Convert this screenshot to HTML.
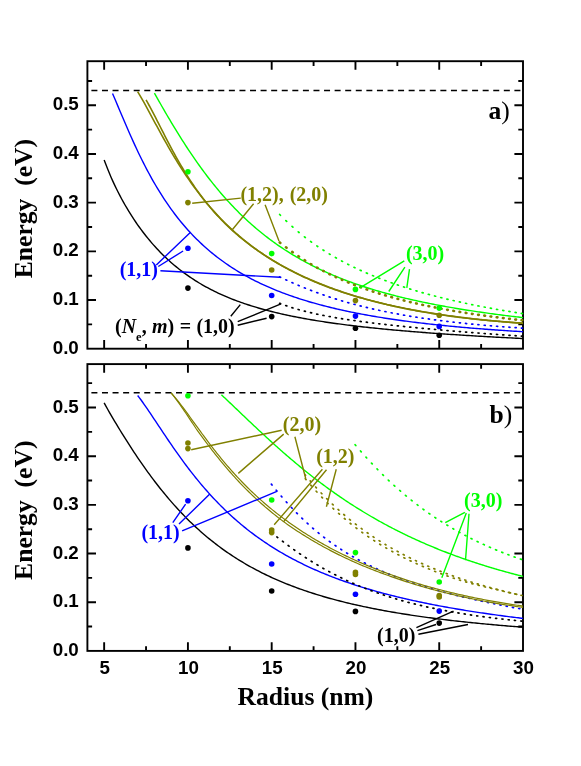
<!DOCTYPE html>
<html><head><meta charset="utf-8"><title>Energy vs Radius</title>
<style>
html,body{margin:0;padding:0;background:#fff;}
body{width:581px;height:766px;overflow:hidden;}
svg{display:block;will-change:transform;}
.tk{font-family:"Liberation Sans",sans-serif;font-weight:bold;font-size:18.8px;fill:#000;}
.lb{font-family:"Liberation Serif",serif;font-weight:bold;font-size:20px;}
.ax{font-family:"Liberation Serif",serif;font-weight:bold;font-size:25.6px;fill:#000;}
</style></head><body>
<svg width="581" height="766" viewBox="0 0 581 766">
<rect width="581" height="766" fill="#fff"/>
<rect x="87.40" y="61.20" width="435.60" height="287.50" fill="none" stroke="#000" stroke-width="1.9"/>
<path d="M104.15 348.70 v-8.6 M104.15 61.20 v8.6 M187.92 348.70 v-8.6 M187.92 61.20 v8.6 M271.69 348.70 v-8.6 M271.69 61.20 v8.6 M355.46 348.70 v-8.6 M355.46 61.20 v8.6 M439.23 348.70 v-8.6 M439.23 61.20 v8.6 M146.04 348.70 v-4.7 M146.04 61.20 v4.7 M229.81 348.70 v-4.7 M229.81 61.20 v4.7 M313.58 348.70 v-4.7 M313.58 61.20 v4.7 M397.35 348.70 v-4.7 M397.35 61.20 v4.7 M481.12 348.70 v-4.7 M481.12 61.20 v4.7 M87.40 324.36 h4.7 M523.00 324.36 h-4.7 M87.40 300.02 h8.6 M523.00 300.02 h-8.6 M87.40 275.68 h4.7 M523.00 275.68 h-4.7 M87.40 251.34 h8.6 M523.00 251.34 h-8.6 M87.40 227.00 h4.7 M523.00 227.00 h-4.7 M87.40 202.66 h8.6 M523.00 202.66 h-8.6 M87.40 178.32 h4.7 M523.00 178.32 h-4.7 M87.40 153.98 h8.6 M523.00 153.98 h-8.6 M87.40 129.64 h4.7 M523.00 129.64 h-4.7 M87.40 105.30 h8.6 M523.00 105.30 h-8.6 M87.40 80.96 h4.7 M523.00 80.96 h-4.7" stroke="#000" stroke-width="1.9" fill="none"/>
<path d="M91.40 90.55 H522.00" stroke="#000" stroke-width="1.45" stroke-dasharray="6.0 4.575" fill="none"/>
<text x="78.8" y="353.70" text-anchor="end" class="tk">0.0</text>
<text x="78.8" y="305.02" text-anchor="end" class="tk">0.1</text>
<text x="78.8" y="256.34" text-anchor="end" class="tk">0.2</text>
<text x="78.8" y="207.66" text-anchor="end" class="tk">0.3</text>
<text x="78.8" y="158.98" text-anchor="end" class="tk">0.4</text>
<text x="78.8" y="110.30" text-anchor="end" class="tk">0.5</text>
<rect x="87.40" y="364.10" width="435.60" height="286.80" fill="none" stroke="#000" stroke-width="1.9"/>
<path d="M104.15 650.90 v-8.6 M104.15 364.10 v8.6 M187.92 650.90 v-8.6 M187.92 364.10 v8.6 M271.69 650.90 v-8.6 M271.69 364.10 v8.6 M355.46 650.90 v-8.6 M355.46 364.10 v8.6 M439.23 650.90 v-8.6 M439.23 364.10 v8.6 M146.04 650.90 v-4.7 M146.04 364.10 v4.7 M229.81 650.90 v-4.7 M229.81 364.10 v4.7 M313.58 650.90 v-4.7 M313.58 364.10 v4.7 M397.35 650.90 v-4.7 M397.35 364.10 v4.7 M481.12 650.90 v-4.7 M481.12 364.10 v4.7 M87.40 626.56 h4.7 M523.00 626.56 h-4.7 M87.40 602.22 h8.6 M523.00 602.22 h-8.6 M87.40 577.88 h4.7 M523.00 577.88 h-4.7 M87.40 553.54 h8.6 M523.00 553.54 h-8.6 M87.40 529.20 h4.7 M523.00 529.20 h-4.7 M87.40 504.86 h8.6 M523.00 504.86 h-8.6 M87.40 480.52 h4.7 M523.00 480.52 h-4.7 M87.40 456.18 h8.6 M523.00 456.18 h-8.6 M87.40 431.84 h4.7 M523.00 431.84 h-4.7 M87.40 407.50 h8.6 M523.00 407.50 h-8.6 M87.40 383.16 h4.7 M523.00 383.16 h-4.7" stroke="#000" stroke-width="1.9" fill="none"/>
<path d="M91.40 392.75 H522.00" stroke="#000" stroke-width="1.45" stroke-dasharray="6.0 4.575" fill="none"/>
<text x="78.8" y="655.90" text-anchor="end" class="tk">0.0</text>
<text x="78.8" y="607.22" text-anchor="end" class="tk">0.1</text>
<text x="78.8" y="558.54" text-anchor="end" class="tk">0.2</text>
<text x="78.8" y="509.86" text-anchor="end" class="tk">0.3</text>
<text x="78.8" y="461.18" text-anchor="end" class="tk">0.4</text>
<text x="78.8" y="412.50" text-anchor="end" class="tk">0.5</text>
<text x="104.65" y="674.0" text-anchor="middle" class="tk">5</text>
<text x="188.42" y="674.0" text-anchor="middle" class="tk">10</text>
<text x="272.19" y="674.0" text-anchor="middle" class="tk">15</text>
<text x="355.96" y="674.0" text-anchor="middle" class="tk">20</text>
<text x="439.73" y="674.0" text-anchor="middle" class="tk">25</text>
<text x="523.50" y="674.0" text-anchor="middle" class="tk">30</text>
<path d="M104.15 159.91 L105.91 164.60 L107.66 169.06 L109.41 173.33 L111.16 177.42 L112.92 181.35 L114.67 185.13 L116.42 188.77 L118.17 192.28 L119.93 195.68 L121.68 198.96 L123.43 202.15 L125.18 205.24 L126.94 208.23 L128.69 211.14 L130.44 213.97 L132.19 216.72 L133.95 219.40 L135.70 222.00 L137.45 224.53 L139.20 227.00 L140.96 229.40 L142.71 231.74 L144.46 234.02 L146.21 236.24 L147.97 238.41 L149.72 240.52 L151.47 242.58 L153.22 244.59 L154.98 246.55 L156.73 248.46 L158.48 250.32 L160.23 252.14 L161.99 253.91 L163.74 255.64 L165.49 257.33 L167.24 258.98 L169.00 260.59 L170.75 262.15 L172.50 263.68 L174.25 265.18 L176.01 266.64 L177.76 268.06 L179.51 269.45 L181.26 270.80 L183.02 272.13 L184.77 273.42 L186.52 274.68 L188.27 275.91 L190.03 277.12 L191.78 278.29 L193.53 279.44 L195.28 280.56 L197.04 281.66 L198.79 282.73 L200.54 283.77 L202.29 284.79 L204.05 285.79 L205.80 286.77 L207.55 287.72 L209.30 288.65 L211.06 289.56 L212.81 290.45 L214.56 291.32 L216.31 292.17 L218.07 293.01 L219.82 293.82 L221.57 294.62 L223.32 295.40 L225.08 296.16 L226.83 296.90 L228.58 297.63 L230.33 298.35 L232.09 299.05 L233.84 299.73 L235.59 300.40 L237.34 301.06 L239.10 301.70 L240.85 302.33 L242.60 302.95 L244.35 303.55 L246.11 304.14 L247.86 304.72 L249.61 305.29 L251.36 305.84 L253.12 306.39 L254.87 306.92 L256.62 307.45 L258.37 307.96 L260.13 308.46 L261.88 308.96 L263.63 309.44 L265.38 309.92 L267.14 310.39 L268.89 310.84 L270.64 311.29 L272.39 311.73 L274.15 312.17 L275.90 312.59 L277.65 313.01 L279.40 313.42 L281.16 313.82 L282.91 314.21 L284.66 314.60 L286.41 314.98 L288.17 315.36 L289.92 315.73 L291.67 316.09 L293.42 316.44 L295.18 316.79 L296.93 317.14 L298.68 317.48 L300.43 317.81 L302.19 318.13 L303.94 318.46 L305.69 318.77 L307.44 319.08 L309.20 319.39 L310.95 319.69 L312.70 319.99 L314.45 320.28 L316.21 320.57 L317.96 320.85 L319.71 321.13 L321.46 321.40 L323.22 321.67 L324.97 321.94 L326.72 322.20 L328.47 322.46 L330.23 322.71 L331.98 322.96 L333.73 323.21 L335.48 323.46 L337.24 323.70 L338.99 323.93 L340.74 324.17 L342.49 324.40 L344.25 324.62 L346.00 324.85 L347.75 325.07 L349.50 325.29 L351.26 325.50 L353.01 325.72 L354.76 325.92 L356.51 326.13 L358.27 326.34 L360.02 326.54 L361.77 326.74 L363.52 326.93 L365.28 327.13 L367.03 327.32 L368.78 327.51 L370.53 327.70 L372.29 327.88 L374.04 328.06 L375.79 328.24 L377.54 328.42 L379.30 328.60 L381.05 328.77 L382.80 328.95 L384.55 329.12 L386.31 329.28 L388.06 329.45 L389.81 329.62 L391.56 329.78 L393.32 329.94 L395.07 330.10 L396.82 330.26 L398.57 330.41 L400.33 330.57 L402.08 330.72 L403.83 330.87 L405.58 331.02 L407.34 331.17 L409.09 331.31 L410.84 331.46 L412.59 331.60 L414.35 331.75 L416.10 331.89 L417.85 332.03 L419.60 332.16 L421.36 332.30 L423.11 332.44 L424.86 332.57 L426.61 332.70 L428.37 332.84 L430.12 332.97 L431.87 333.09 L433.62 333.22 L435.38 333.35 L437.13 333.48 L438.88 333.60 L440.63 333.72 L442.39 333.85 L444.14 333.97 L445.89 334.09 L447.64 334.21 L449.40 334.33 L451.15 334.44 L452.90 334.56 L454.65 334.67 L456.41 334.79 L458.16 334.90 L459.91 335.02 L461.66 335.13 L463.42 335.24 L465.17 335.35 L466.92 335.46 L468.67 335.56 L470.43 335.67 L472.18 335.78 L473.93 335.88 L475.68 335.99 L477.44 336.09 L479.19 336.19 L480.94 336.30 L482.69 336.40 L484.45 336.50 L486.20 336.60 L487.95 336.70 L489.70 336.80 L491.46 336.90 L493.21 336.99 L494.96 337.09 L496.71 337.18 L498.47 337.28 L500.22 337.37 L501.97 337.47 L503.72 337.56 L505.48 337.65 L507.23 337.74 L508.98 337.83 L510.73 337.92 L512.49 338.01 L514.24 338.10 L515.99 338.19 L517.74 338.28 L519.50 338.37 L521.25 338.45 L523.00 338.54" fill="none" stroke="#000000" stroke-width="1.4"/>
<path d="M112.53 93.53 L114.25 97.52 L115.97 101.55 L117.68 105.61 L119.40 109.68 L121.12 113.74 L122.84 117.80 L124.55 121.83 L126.27 125.83 L127.99 129.79 L129.71 133.71 L131.42 137.57 L133.14 141.38 L134.86 145.13 L136.57 148.82 L138.29 152.44 L140.01 156.00 L141.73 159.50 L143.44 162.92 L145.16 166.28 L146.88 169.57 L148.60 172.79 L150.31 175.95 L152.03 179.04 L153.75 182.06 L155.47 185.01 L157.18 187.90 L158.90 190.73 L160.62 193.49 L162.34 196.20 L164.05 198.84 L165.77 201.42 L167.49 203.95 L169.21 206.42 L170.92 208.83 L172.64 211.19 L174.36 213.49 L176.08 215.74 L177.79 217.95 L179.51 220.10 L181.23 222.20 L182.95 224.26 L184.66 226.27 L186.38 228.24 L188.10 230.16 L189.82 232.04 L191.53 233.89 L193.25 235.68 L194.97 237.45 L196.69 239.17 L198.40 240.85 L200.12 242.50 L201.84 244.12 L203.56 245.70 L205.27 247.24 L206.99 248.76 L208.71 250.24 L210.43 251.69 L212.14 253.11 L213.86 254.50 L215.58 255.86 L217.29 257.20 L219.01 258.51 L220.73 259.79 L222.45 261.04 L224.16 262.27 L225.88 263.48 L227.60 264.66 L229.32 265.82 L231.03 266.96 L232.75 268.07 L234.47 269.16 L236.19 270.23 L237.90 271.29 L239.62 272.32 L241.34 273.33 L243.06 274.32 L244.77 275.29 L246.49 276.25 L248.21 277.19 L249.93 278.11 L251.64 279.01 L253.36 279.90 L255.08 280.77 L256.80 281.62 L258.51 282.46 L260.23 283.29 L261.95 284.10 L263.67 284.89 L265.38 285.68 L267.10 286.44 L268.82 287.20 L270.54 287.94 L272.25 288.67 L273.97 289.39 L275.69 290.09 L277.41 290.78 L279.12 291.46 L280.84 292.13 L282.56 292.79 L284.28 293.44 L285.99 294.07 L287.71 294.70 L289.43 295.31 L291.14 295.92 L292.86 296.51 L294.58 297.10 L296.30 297.67 L298.01 298.24 L299.73 298.80 L301.45 299.35 L303.17 299.89 L304.88 300.42 L306.60 300.94 L308.32 301.46 L310.04 301.96 L311.75 302.46 L313.47 302.95 L315.19 303.44 L316.91 303.91 L318.62 304.38 L320.34 304.85 L322.06 305.30 L323.78 305.75 L325.49 306.19 L327.21 306.62 L328.93 307.05 L330.65 307.47 L332.36 307.89 L334.08 308.30 L335.80 308.70 L337.52 309.10 L339.23 309.49 L340.95 309.88 L342.67 310.26 L344.39 310.63 L346.10 311.00 L347.82 311.37 L349.54 311.73 L351.26 312.08 L352.97 312.43 L354.69 312.78 L356.41 313.11 L358.13 313.45 L359.84 313.78 L361.56 314.10 L363.28 314.43 L365.00 314.74 L366.71 315.05 L368.43 315.36 L370.15 315.67 L371.86 315.96 L373.58 316.26 L375.30 316.55 L377.02 316.84 L378.73 317.12 L380.45 317.40 L382.17 317.68 L383.89 317.95 L385.60 318.22 L387.32 318.48 L389.04 318.75 L390.76 319.00 L392.47 319.26 L394.19 319.51 L395.91 319.76 L397.63 320.00 L399.34 320.25 L401.06 320.48 L402.78 320.72 L404.50 320.95 L406.21 321.18 L407.93 321.41 L409.65 321.63 L411.37 321.85 L413.08 322.07 L414.80 322.29 L416.52 322.50 L418.24 322.71 L419.95 322.92 L421.67 323.12 L423.39 323.32 L425.11 323.52 L426.82 323.72 L428.54 323.92 L430.26 324.11 L431.98 324.30 L433.69 324.49 L435.41 324.67 L437.13 324.86 L438.85 325.04 L440.56 325.21 L442.28 325.39 L444.00 325.57 L445.71 325.74 L447.43 325.91 L449.15 326.08 L450.87 326.24 L452.58 326.41 L454.30 326.57 L456.02 326.73 L457.74 326.89 L459.45 327.04 L461.17 327.20 L462.89 327.35 L464.61 327.50 L466.32 327.65 L468.04 327.80 L469.76 327.95 L471.48 328.09 L473.19 328.23 L474.91 328.37 L476.63 328.51 L478.35 328.65 L480.06 328.79 L481.78 328.92 L483.50 329.05 L485.22 329.19 L486.93 329.32 L488.65 329.44 L490.37 329.57 L492.09 329.70 L493.80 329.82 L495.52 329.94 L497.24 330.06 L498.96 330.18 L500.67 330.30 L502.39 330.42 L504.11 330.54 L505.83 330.65 L507.54 330.76 L509.26 330.88 L510.98 330.99 L512.70 331.10 L514.41 331.21 L516.13 331.31 L517.85 331.42 L519.57 331.52 L521.28 331.63 L523.00 331.73" fill="none" stroke="#0000ff" stroke-width="1.4"/>
<path d="M137.66 91.65 L139.27 94.30 L140.89 97.04 L142.50 99.85 L144.11 102.72 L145.72 105.63 L147.34 108.57 L148.95 111.54 L150.56 114.52 L152.17 117.52 L153.78 120.51 L155.40 123.51 L157.01 126.49 L158.62 129.46 L160.23 132.41 L161.85 135.34 L163.46 138.25 L165.07 141.13 L166.68 143.98 L168.30 146.80 L169.91 149.59 L171.52 152.34 L173.13 155.06 L174.74 157.74 L176.36 160.38 L177.97 162.99 L179.58 165.55 L181.19 168.08 L182.81 170.57 L184.42 173.03 L186.03 175.44 L187.64 177.81 L189.25 180.15 L190.87 182.45 L192.48 184.71 L194.09 186.93 L195.70 189.12 L197.32 191.27 L198.93 193.38 L200.54 195.46 L202.15 197.50 L203.77 199.51 L205.38 201.48 L206.99 203.42 L208.60 205.33 L210.21 207.20 L211.83 209.05 L213.44 210.86 L215.05 212.64 L216.66 214.39 L218.28 216.11 L219.89 217.80 L221.50 219.47 L223.11 221.10 L224.73 222.71 L226.34 224.29 L227.95 225.85 L229.56 227.38 L231.17 228.88 L232.79 230.36 L234.40 231.82 L236.01 233.25 L237.62 234.66 L239.24 236.04 L240.85 237.40 L242.46 238.74 L244.07 240.06 L245.69 241.36 L247.30 242.64 L248.91 243.89 L250.52 245.13 L252.13 246.35 L253.75 247.55 L255.36 248.73 L256.97 249.89 L258.58 251.03 L260.20 252.16 L261.81 253.26 L263.42 254.35 L265.03 255.43 L266.65 256.49 L268.26 257.53 L269.87 258.55 L271.48 259.56 L273.09 260.56 L274.71 261.54 L276.32 262.51 L277.93 263.46 L279.54 264.39 L281.16 265.32 L282.77 266.23 L284.38 267.12 L285.99 268.01 L287.60 268.88 L289.22 269.73 L290.83 270.58 L292.44 271.41 L294.05 272.23 L295.67 273.04 L297.28 273.84 L298.89 274.63 L300.50 275.40 L302.12 276.16 L303.73 276.92 L305.34 277.66 L306.95 278.39 L308.56 279.11 L310.18 279.82 L311.79 280.53 L313.40 281.22 L315.01 281.90 L316.63 282.57 L318.24 283.23 L319.85 283.89 L321.46 284.53 L323.08 285.17 L324.69 285.80 L326.30 286.42 L327.91 287.03 L329.52 287.63 L331.14 288.22 L332.75 288.81 L334.36 289.38 L335.97 289.95 L337.59 290.52 L339.20 291.07 L340.81 291.62 L342.42 292.16 L344.04 292.69 L345.65 293.21 L347.26 293.73 L348.87 294.24 L350.48 294.75 L352.10 295.25 L353.71 295.74 L355.32 296.22 L356.93 296.70 L358.55 297.17 L360.16 297.63 L361.77 298.09 L363.38 298.55 L365.00 298.99 L366.61 299.44 L368.22 299.87 L369.83 300.30 L371.44 300.72 L373.06 301.14 L374.67 301.56 L376.28 301.96 L377.89 302.36 L379.51 302.76 L381.12 303.15 L382.73 303.54 L384.34 303.92 L385.95 304.30 L387.57 304.67 L389.18 305.04 L390.79 305.40 L392.40 305.75 L394.02 306.11 L395.63 306.45 L397.24 306.80 L398.85 307.14 L400.47 307.47 L402.08 307.80 L403.69 308.13 L405.30 308.45 L406.91 308.77 L408.53 309.08 L410.14 309.39 L411.75 309.69 L413.36 310.00 L414.98 310.29 L416.59 310.59 L418.20 310.88 L419.81 311.16 L421.43 311.44 L423.04 311.72 L424.65 312.00 L426.26 312.27 L427.87 312.54 L429.49 312.80 L431.10 313.06 L432.71 313.32 L434.32 313.57 L435.94 313.83 L437.55 314.07 L439.16 314.32 L440.77 314.56 L442.39 314.80 L444.00 315.03 L445.61 315.26 L447.22 315.49 L448.83 315.72 L450.45 315.94 L452.06 316.16 L453.67 316.38 L455.28 316.59 L456.90 316.80 L458.51 317.01 L460.12 317.22 L461.73 317.42 L463.35 317.62 L464.96 317.82 L466.57 318.02 L468.18 318.21 L469.79 318.40 L471.41 318.59 L473.02 318.77 L474.63 318.96 L476.24 319.14 L477.86 319.31 L479.47 319.49 L481.08 319.66 L482.69 319.83 L484.30 320.00 L485.92 320.17 L487.53 320.33 L489.14 320.49 L490.75 320.65 L492.37 320.81 L493.98 320.97 L495.59 321.12 L497.20 321.27 L498.82 321.42 L500.43 321.57 L502.04 321.71 L503.65 321.85 L505.26 322.00 L506.88 322.13 L508.49 322.27 L510.10 322.41 L511.71 322.54 L513.33 322.67 L514.94 322.80 L516.55 322.93 L518.16 323.05 L519.78 323.18 L521.39 323.30 L523.00 323.42" fill="none" stroke="#808000" stroke-width="1.6"/>
<path d="M146.04 99.97 L147.62 102.68 L149.19 105.49 L150.77 108.39 L152.35 111.36 L153.92 114.38 L155.50 117.44 L157.08 120.53 L158.66 123.64 L160.23 126.75 L161.81 129.86 L163.39 132.95 L164.97 136.04 L166.54 139.10 L168.12 142.13 L169.70 145.13 L171.27 148.10 L172.85 151.03 L174.43 153.92 L176.01 156.77 L177.58 159.57 L179.16 162.33 L180.74 165.05 L182.32 167.72 L183.89 170.34 L185.47 172.91 L187.05 175.44 L188.62 177.91 L190.20 180.35 L191.78 182.73 L193.36 185.07 L194.93 187.36 L196.51 189.61 L198.09 191.82 L199.66 193.98 L201.24 196.10 L202.82 198.17 L204.40 200.21 L205.97 202.20 L207.55 204.16 L209.13 206.08 L210.71 207.96 L212.28 209.80 L213.86 211.61 L215.44 213.38 L217.01 215.12 L218.59 216.83 L220.17 218.50 L221.75 220.14 L223.32 221.75 L224.90 223.33 L226.48 224.88 L228.06 226.41 L229.63 227.90 L231.21 229.37 L232.79 230.81 L234.36 232.23 L235.94 233.62 L237.52 234.98 L239.10 236.33 L240.67 237.65 L242.25 238.95 L243.83 240.22 L245.40 241.48 L246.98 242.71 L248.56 243.92 L250.14 245.12 L251.71 246.29 L253.29 247.45 L254.87 248.58 L256.45 249.70 L258.02 250.81 L259.60 251.89 L261.18 252.96 L262.75 254.01 L264.33 255.05 L265.91 256.07 L267.49 257.07 L269.06 258.06 L270.64 259.04 L272.22 260.00 L273.80 260.95 L275.37 261.88 L276.95 262.80 L278.53 263.71 L280.10 264.60 L281.68 265.49 L283.26 266.36 L284.84 267.21 L286.41 268.06 L287.99 268.90 L289.57 269.72 L291.14 270.53 L292.72 271.33 L294.30 272.12 L295.88 272.90 L297.45 273.67 L299.03 274.43 L300.61 275.18 L302.19 275.92 L303.76 276.65 L305.34 277.38 L306.92 278.09 L308.49 278.79 L310.07 279.48 L311.65 280.17 L313.23 280.84 L314.80 281.51 L316.38 282.17 L317.96 282.82 L319.54 283.46 L321.11 284.09 L322.69 284.72 L324.27 285.34 L325.84 285.95 L327.42 286.55 L329.00 287.15 L330.58 287.74 L332.15 288.32 L333.73 288.89 L335.31 289.45 L336.89 290.01 L338.46 290.57 L340.04 291.11 L341.62 291.65 L343.19 292.18 L344.77 292.71 L346.35 293.23 L347.93 293.74 L349.50 294.24 L351.08 294.74 L352.66 295.24 L354.23 295.72 L355.81 296.20 L357.39 296.68 L358.97 297.15 L360.54 297.61 L362.12 298.07 L363.70 298.52 L365.28 298.97 L366.85 299.41 L368.43 299.84 L370.01 300.27 L371.58 300.70 L373.16 301.12 L374.74 301.53 L376.32 301.94 L377.89 302.34 L379.47 302.74 L381.05 303.13 L382.63 303.52 L384.20 303.90 L385.78 304.28 L387.36 304.66 L388.93 305.02 L390.51 305.39 L392.09 305.75 L393.67 306.10 L395.24 306.45 L396.82 306.80 L398.40 307.14 L399.97 307.47 L401.55 307.81 L403.13 308.13 L404.71 308.46 L406.28 308.78 L407.86 309.09 L409.44 309.40 L411.02 309.71 L412.59 310.01 L414.17 310.31 L415.75 310.61 L417.32 310.90 L418.90 311.18 L420.48 311.47 L422.06 311.75 L423.63 312.02 L425.21 312.29 L426.79 312.56 L428.37 312.82 L429.94 313.08 L431.52 313.34 L433.10 313.59 L434.67 313.84 L436.25 314.09 L437.83 314.33 L439.41 314.57 L440.98 314.81 L442.56 315.04 L444.14 315.27 L445.71 315.50 L447.29 315.72 L448.87 315.94 L450.45 316.15 L452.02 316.37 L453.60 316.58 L455.18 316.78 L456.76 316.99 L458.33 317.19 L459.91 317.39 L461.49 317.58 L463.06 317.77 L464.64 317.96 L466.22 318.15 L467.80 318.33 L469.37 318.51 L470.95 318.69 L472.53 318.86 L474.11 319.03 L475.68 319.20 L477.26 319.37 L478.84 319.53 L480.41 319.69 L481.99 319.85 L483.57 320.00 L485.15 320.16 L486.72 320.31 L488.30 320.45 L489.88 320.60 L491.46 320.74 L493.03 320.88 L494.61 321.02 L496.19 321.15 L497.76 321.29 L499.34 321.42 L500.92 321.54 L502.50 321.67 L504.07 321.79 L505.65 321.91 L507.23 322.03 L508.80 322.15 L510.38 322.26 L511.96 322.37 L513.54 322.48 L515.11 322.59 L516.69 322.69 L518.27 322.79 L519.85 322.89 L521.42 322.99 L523.00 323.09" fill="none" stroke="#808000" stroke-width="1.6"/>
<path d="M154.42 93.07 L155.96 95.83 L157.50 98.58 L159.04 101.31 L160.58 104.03 L162.13 106.73 L163.67 109.42 L165.21 112.08 L166.75 114.73 L168.30 117.36 L169.84 119.97 L171.38 122.56 L172.92 125.13 L174.46 127.68 L176.01 130.20 L177.55 132.71 L179.09 135.19 L180.63 137.65 L182.17 140.08 L183.72 142.49 L185.26 144.88 L186.80 147.25 L188.34 149.59 L189.89 151.90 L191.43 154.19 L192.97 156.46 L194.51 158.70 L196.05 160.91 L197.60 163.10 L199.14 165.27 L200.68 167.41 L202.22 169.52 L203.77 171.61 L205.31 173.67 L206.85 175.71 L208.39 177.72 L209.93 179.71 L211.48 181.67 L213.02 183.61 L214.56 185.52 L216.10 187.41 L217.65 189.28 L219.19 191.12 L220.73 192.93 L222.27 194.72 L223.81 196.49 L225.36 198.23 L226.90 199.95 L228.44 201.65 L229.98 203.32 L231.53 204.97 L233.07 206.60 L234.61 208.21 L236.15 209.79 L237.69 211.35 L239.24 212.89 L240.78 214.41 L242.32 215.91 L243.86 217.38 L245.40 218.84 L246.95 220.27 L248.49 221.69 L250.03 223.08 L251.57 224.46 L253.12 225.81 L254.66 227.15 L256.20 228.47 L257.74 229.76 L259.28 231.04 L260.83 232.31 L262.37 233.55 L263.91 234.78 L265.45 235.99 L267.00 237.18 L268.54 238.35 L270.08 239.51 L271.62 240.65 L273.16 241.78 L274.71 242.89 L276.25 243.98 L277.79 245.06 L279.33 246.12 L280.88 247.17 L282.42 248.20 L283.96 249.22 L285.50 250.22 L287.04 251.21 L288.59 252.19 L290.13 253.15 L291.67 254.10 L293.21 255.03 L294.76 255.96 L296.30 256.87 L297.84 257.76 L299.38 258.65 L300.92 259.52 L302.47 260.38 L304.01 261.23 L305.55 262.06 L307.09 262.89 L308.63 263.70 L310.18 264.50 L311.72 265.29 L313.26 266.07 L314.80 266.84 L316.35 267.60 L317.89 268.35 L319.43 269.09 L320.97 269.82 L322.51 270.54 L324.06 271.24 L325.60 271.94 L327.14 272.63 L328.68 273.32 L330.23 273.99 L331.77 274.65 L333.31 275.31 L334.85 275.95 L336.39 276.59 L337.94 277.22 L339.48 277.84 L341.02 278.45 L342.56 279.05 L344.11 279.65 L345.65 280.24 L347.19 280.82 L348.73 281.40 L350.27 281.96 L351.82 282.52 L353.36 283.07 L354.90 283.62 L356.44 284.16 L357.99 284.69 L359.53 285.21 L361.07 285.73 L362.61 286.24 L364.15 286.75 L365.70 287.25 L367.24 287.74 L368.78 288.23 L370.32 288.71 L371.86 289.19 L373.41 289.66 L374.95 290.12 L376.49 290.58 L378.03 291.03 L379.58 291.48 L381.12 291.92 L382.66 292.36 L384.20 292.79 L385.74 293.21 L387.29 293.64 L388.83 294.05 L390.37 294.46 L391.91 294.87 L393.46 295.27 L395.00 295.67 L396.54 296.06 L398.08 296.45 L399.62 296.83 L401.17 297.21 L402.71 297.59 L404.25 297.96 L405.79 298.33 L407.34 298.69 L408.88 299.05 L410.42 299.40 L411.96 299.75 L413.50 300.10 L415.05 300.44 L416.59 300.78 L418.13 301.12 L419.67 301.45 L421.22 301.78 L422.76 302.10 L424.30 302.43 L425.84 302.74 L427.38 303.06 L428.93 303.37 L430.47 303.68 L432.01 303.98 L433.55 304.28 L435.09 304.58 L436.64 304.88 L438.18 305.17 L439.72 305.46 L441.26 305.75 L442.81 306.03 L444.35 306.31 L445.89 306.59 L447.43 306.86 L448.97 307.13 L450.52 307.40 L452.06 307.67 L453.60 307.93 L455.14 308.20 L456.69 308.46 L458.23 308.71 L459.77 308.97 L461.31 309.22 L462.85 309.47 L464.40 309.71 L465.94 309.96 L467.48 310.20 L469.02 310.44 L470.57 310.68 L472.11 310.91 L473.65 311.15 L475.19 311.38 L476.73 311.60 L478.28 311.83 L479.82 312.06 L481.36 312.28 L482.90 312.50 L484.45 312.72 L485.99 312.93 L487.53 313.15 L489.07 313.36 L490.61 313.57 L492.16 313.78 L493.70 313.99 L495.24 314.19 L496.78 314.40 L498.32 314.60 L499.87 314.80 L501.41 315.00 L502.95 315.19 L504.49 315.39 L506.04 315.58 L507.58 315.77 L509.12 315.96 L510.66 316.15 L512.20 316.34 L513.75 316.52 L515.29 316.71 L516.83 316.89 L518.37 317.07 L519.92 317.25 L521.46 317.43 L523.00 317.60" fill="none" stroke="#00ff00" stroke-width="1.4"/>
<path d="M279.56 303.26 L280.58 303.66 M285.75 305.56 L286.79 305.92 M291.94 307.61 L292.99 307.94 M298.14 309.46 L299.20 309.76 M304.34 311.13 L305.40 311.40 M310.53 312.65 L311.60 312.90 M316.73 314.05 L317.81 314.28 M322.93 315.33 L324.01 315.54 M329.13 316.51 L330.21 316.71 M335.33 317.62 L336.41 317.80 M341.53 318.65 L342.61 318.82 M347.73 319.61 L348.81 319.78 M353.92 320.53 L355.01 320.68 M360.12 321.39 L361.21 321.54 M366.32 322.21 L367.41 322.35 M372.52 322.99 L373.62 323.12 M378.72 323.74 L379.82 323.87 M384.92 324.46 L386.02 324.58 M391.12 325.15 L392.22 325.27 M397.32 325.81 L398.42 325.93 M403.52 326.46 L404.62 326.57 M409.72 327.09 L410.82 327.19 M415.92 327.69 L417.02 327.80 M422.12 328.28 L423.22 328.39 M428.32 328.86 L429.42 328.96 M434.52 329.42 L435.62 329.52 M440.72 329.97 L441.82 330.06 M446.92 330.50 L448.02 330.60 M453.12 331.03 L454.22 331.12 M459.32 331.54 L460.42 331.63 M465.52 332.04 L466.62 332.13 M471.72 332.53 L472.82 332.62 M477.92 333.01 L479.02 333.10 M484.12 333.48 L485.22 333.57 M490.32 333.95 L491.42 334.03 M496.52 334.40 L497.62 334.48 M502.72 334.84 L503.82 334.92 M508.92 335.28 L510.02 335.36 M515.12 335.71 L516.22 335.78 M521.32 336.12 L522.42 336.20" fill="none" stroke="#000000" stroke-width="1.7" stroke-linecap="round"/>
<path d="M279.57 276.87 L280.57 277.35 M285.77 279.77 L286.77 280.23 M291.97 282.56 L292.97 283.00 M298.16 285.23 L299.18 285.66 M304.36 287.78 L305.38 288.19 M310.56 290.22 L311.58 290.61 M316.75 292.54 L317.79 292.92 M322.95 294.75 L323.99 295.11 M329.15 296.85 L330.19 297.20 M335.34 298.85 L336.39 299.18 M341.54 300.75 L342.60 301.06 M347.74 302.55 L348.80 302.84 M353.94 304.25 L355.00 304.54 M360.14 305.87 L361.20 306.14 M366.33 307.40 L367.40 307.66 M372.53 308.86 L373.61 309.10 M378.73 310.23 L379.81 310.47 M384.93 311.54 L386.01 311.76 M391.13 312.78 L392.21 312.99 M397.33 313.95 L398.41 314.15 M403.53 315.06 L404.61 315.25 M409.73 316.11 L410.81 316.29 M415.93 317.11 L417.01 317.28 M422.13 318.06 L423.21 318.22 M428.32 318.96 L429.41 319.11 M434.52 319.81 L435.61 319.95 M440.72 320.62 L441.81 320.75 M446.92 321.38 L448.02 321.51 M453.12 322.11 L454.22 322.23 M459.32 322.80 L460.42 322.92 M465.52 323.45 L466.62 323.56 M471.72 324.07 L472.82 324.18 M477.92 324.66 L479.02 324.77 M484.12 325.23 L485.22 325.32 M490.32 325.76 L491.42 325.85 M496.52 326.26 L497.62 326.35 M502.72 326.74 L503.82 326.83 M508.92 327.20 L510.02 327.28 M515.12 327.63 L516.22 327.71 M521.32 328.05 L522.42 328.12" fill="none" stroke="#0000ff" stroke-width="1.7" stroke-linecap="round"/>
<path d="M279.80 242.44 L280.34 242.89 M285.99 247.34 L286.55 247.77 M292.18 251.93 L292.75 252.33 M298.38 256.21 L298.96 256.60 M304.57 260.23 L305.17 260.60 M310.77 264.00 L311.37 264.36 M316.96 267.54 L317.58 267.88 M323.16 270.87 L323.78 271.19 M329.35 274.00 L329.98 274.31 M335.55 276.95 L336.19 277.24 M341.75 279.72 L342.39 280.00 M347.95 282.35 L348.59 282.61 M354.14 284.82 L354.80 285.07 M360.34 287.16 L361.00 287.40 M366.54 289.37 L367.20 289.60 M372.74 291.46 L373.40 291.68 M378.93 293.45 L379.60 293.66 M385.13 295.33 L385.80 295.53 M391.33 297.11 L392.01 297.30 M397.53 298.81 L398.21 298.99 M403.73 300.42 L404.41 300.59 M409.93 301.95 L410.61 302.11 M416.13 303.41 L416.81 303.56 M422.33 304.80 L423.01 304.94 M428.53 306.12 L429.21 306.26 M434.73 307.38 L435.41 307.51 M440.93 308.58 L441.61 308.71 M447.12 309.73 L447.81 309.85 M453.32 310.83 L454.01 310.94 M459.52 311.87 L460.21 311.99 M465.72 312.88 L466.41 312.99 M471.92 313.84 L472.62 313.94 M478.12 314.76 L478.82 314.86 M484.32 315.64 L485.02 315.73 M490.52 316.48 L491.22 316.57 M496.72 317.29 L497.42 317.38 M502.92 318.06 L503.62 318.15 M509.12 318.81 L509.82 318.89 M515.32 319.52 L516.02 319.60 M521.52 320.21 L522.22 320.29" fill="none" stroke="#808000" stroke-width="2.6" stroke-linecap="round"/>
<path d="M279.69 214.47 L280.45 215.27 M285.87 220.67 L286.67 221.44 M292.06 226.43 L292.88 227.17 M298.25 231.80 L299.09 232.50 M304.44 236.80 L305.30 237.48 M310.62 241.48 L311.51 242.13 M316.82 245.87 L317.72 246.49 M323.01 249.99 L323.93 250.58 M329.20 253.86 L330.14 254.43 M335.39 257.51 L336.35 258.05 M341.58 260.95 L342.55 261.47 M347.78 264.20 L348.76 264.69 M353.97 267.27 L354.96 267.75 M360.17 270.18 L361.17 270.64 M366.36 272.95 L367.37 273.38 M372.56 275.57 L373.58 275.99 M378.76 278.07 L379.78 278.47 M384.95 280.44 L385.98 280.82 M391.15 282.70 L392.19 283.07 M397.35 284.86 L398.39 285.21 M403.55 286.92 L404.59 287.26 M409.74 288.89 L410.79 289.21 M415.94 290.77 L417.00 291.08 M422.14 292.57 L423.20 292.87 M428.34 294.29 L429.40 294.58 M434.54 295.95 L435.60 296.22 M440.74 297.53 L441.80 297.80 M446.93 299.06 L448.00 299.31 M453.13 300.52 L454.21 300.76 M459.33 301.92 L460.41 302.16 M465.53 303.27 L466.61 303.50 M471.73 304.57 L472.81 304.79 M477.93 305.83 L479.01 306.04 M484.13 307.03 L485.21 307.24 M490.33 308.19 L491.41 308.39 M496.53 309.31 L497.61 309.50 M502.73 310.39 L503.81 310.58 M508.93 311.44 L510.01 311.62 M515.13 312.44 L516.21 312.62 M521.33 313.42 L522.41 313.58" fill="none" stroke="#00ff00" stroke-width="1.7" stroke-linecap="round"/>
<path d="M104.15 402.96 L105.91 406.11 L107.66 409.22 L109.41 412.29 L111.16 415.32 L112.92 418.32 L114.67 421.28 L116.42 424.22 L118.17 427.12 L119.93 430.00 L121.68 432.85 L123.43 435.67 L125.18 438.46 L126.94 441.23 L128.69 443.97 L130.44 446.69 L132.19 449.37 L133.95 452.03 L135.70 454.67 L137.45 457.27 L139.20 459.84 L140.96 462.39 L142.71 464.91 L144.46 467.40 L146.21 469.86 L147.97 472.29 L149.72 474.69 L151.47 477.06 L153.22 479.40 L154.98 481.71 L156.73 483.99 L158.48 486.23 L160.23 488.45 L161.99 490.64 L163.74 492.80 L165.49 494.93 L167.24 497.03 L169.00 499.09 L170.75 501.13 L172.50 503.14 L174.25 505.12 L176.01 507.07 L177.76 508.99 L179.51 510.88 L181.26 512.74 L183.02 514.57 L184.77 516.38 L186.52 518.16 L188.27 519.91 L190.03 521.63 L191.78 523.32 L193.53 524.99 L195.28 526.63 L197.04 528.25 L198.79 529.84 L200.54 531.40 L202.29 532.94 L204.05 534.46 L205.80 535.95 L207.55 537.42 L209.30 538.86 L211.06 540.28 L212.81 541.67 L214.56 543.05 L216.31 544.40 L218.07 545.73 L219.82 547.04 L221.57 548.32 L223.32 549.59 L225.08 550.83 L226.83 552.06 L228.58 553.26 L230.33 554.45 L232.09 555.61 L233.84 556.76 L235.59 557.89 L237.34 559.00 L239.10 560.09 L240.85 561.16 L242.60 562.22 L244.35 563.26 L246.11 564.28 L247.86 565.29 L249.61 566.28 L251.36 567.25 L253.12 568.21 L254.87 569.15 L256.62 570.08 L258.37 570.99 L260.13 571.89 L261.88 572.78 L263.63 573.65 L265.38 574.50 L267.14 575.35 L268.89 576.18 L270.64 576.99 L272.39 577.80 L274.15 578.59 L275.90 579.37 L277.65 580.13 L279.40 580.89 L281.16 581.63 L282.91 582.36 L284.66 583.08 L286.41 583.79 L288.17 584.49 L289.92 585.18 L291.67 585.86 L293.42 586.52 L295.18 587.18 L296.93 587.83 L298.68 588.47 L300.43 589.09 L302.19 589.71 L303.94 590.32 L305.69 590.92 L307.44 591.51 L309.20 592.10 L310.95 592.67 L312.70 593.23 L314.45 593.79 L316.21 594.34 L317.96 594.88 L319.71 595.41 L321.46 595.94 L323.22 596.46 L324.97 596.97 L326.72 597.47 L328.47 597.97 L330.23 598.46 L331.98 598.94 L333.73 599.41 L335.48 599.88 L337.24 600.34 L338.99 600.80 L340.74 601.25 L342.49 601.69 L344.25 602.13 L346.00 602.56 L347.75 602.99 L349.50 603.40 L351.26 603.82 L353.01 604.23 L354.76 604.63 L356.51 605.02 L358.27 605.42 L360.02 605.80 L361.77 606.18 L363.52 606.56 L365.28 606.93 L367.03 607.30 L368.78 607.66 L370.53 608.02 L372.29 608.37 L374.04 608.71 L375.79 609.06 L377.54 609.40 L379.30 609.73 L381.05 610.06 L382.80 610.39 L384.55 610.71 L386.31 611.03 L388.06 611.34 L389.81 611.65 L391.56 611.95 L393.32 612.26 L395.07 612.55 L396.82 612.85 L398.57 613.14 L400.33 613.43 L402.08 613.71 L403.83 613.99 L405.58 614.27 L407.34 614.54 L409.09 614.81 L410.84 615.08 L412.59 615.34 L414.35 615.60 L416.10 615.86 L417.85 616.11 L419.60 616.37 L421.36 616.61 L423.11 616.86 L424.86 617.10 L426.61 617.34 L428.37 617.58 L430.12 617.81 L431.87 618.04 L433.62 618.27 L435.38 618.50 L437.13 618.72 L438.88 618.95 L440.63 619.16 L442.39 619.38 L444.14 619.59 L445.89 619.81 L447.64 620.01 L449.40 620.22 L451.15 620.43 L452.90 620.63 L454.65 620.83 L456.41 621.03 L458.16 621.22 L459.91 621.42 L461.66 621.61 L463.42 621.80 L465.17 621.98 L466.92 622.17 L468.67 622.35 L470.43 622.54 L472.18 622.72 L473.93 622.89 L475.68 623.07 L477.44 623.24 L479.19 623.42 L480.94 623.59 L482.69 623.75 L484.45 623.92 L486.20 624.09 L487.95 624.25 L489.70 624.41 L491.46 624.57 L493.21 624.73 L494.96 624.89 L496.71 625.04 L498.47 625.20 L500.22 625.35 L501.97 625.50 L503.72 625.65 L505.48 625.80 L507.23 625.95 L508.98 626.09 L510.73 626.23 L512.49 626.38 L514.24 626.52 L515.99 626.66 L517.74 626.80 L519.50 626.93 L521.25 627.07 L523.00 627.20" fill="none" stroke="#000000" stroke-width="1.4"/>
<path d="M137.66 395.46 L139.27 397.59 L140.89 399.78 L142.50 402.02 L144.11 404.30 L145.72 406.61 L147.34 408.95 L148.95 411.32 L150.56 413.71 L152.17 416.11 L153.78 418.53 L155.40 420.95 L157.01 423.38 L158.62 425.81 L160.23 428.23 L161.85 430.65 L163.46 433.07 L165.07 435.47 L166.68 437.87 L168.30 440.25 L169.91 442.62 L171.52 444.97 L173.13 447.30 L174.74 449.62 L176.36 451.92 L177.97 454.19 L179.58 456.45 L181.19 458.68 L182.81 460.89 L184.42 463.07 L186.03 465.24 L187.64 467.37 L189.25 469.49 L190.87 471.58 L192.48 473.64 L194.09 475.68 L195.70 477.69 L197.32 479.68 L198.93 481.64 L200.54 483.58 L202.15 485.49 L203.77 487.38 L205.38 489.24 L206.99 491.08 L208.60 492.89 L210.21 494.67 L211.83 496.44 L213.44 498.17 L215.05 499.88 L216.66 501.57 L218.28 503.24 L219.89 504.88 L221.50 506.50 L223.11 508.09 L224.73 509.66 L226.34 511.21 L227.95 512.74 L229.56 514.24 L231.17 515.73 L232.79 517.19 L234.40 518.63 L236.01 520.05 L237.62 521.45 L239.24 522.83 L240.85 524.19 L242.46 525.53 L244.07 526.85 L245.69 528.15 L247.30 529.43 L248.91 530.69 L250.52 531.94 L252.13 533.17 L253.75 534.37 L255.36 535.57 L256.97 536.74 L258.58 537.90 L260.20 539.04 L261.81 540.17 L263.42 541.28 L265.03 542.37 L266.65 543.45 L268.26 544.51 L269.87 545.56 L271.48 546.60 L273.09 547.62 L274.71 548.62 L276.32 549.61 L277.93 550.59 L279.54 551.55 L281.16 552.50 L282.77 553.44 L284.38 554.36 L285.99 555.28 L287.60 556.17 L289.22 557.06 L290.83 557.94 L292.44 558.80 L294.05 559.65 L295.67 560.49 L297.28 561.32 L298.89 562.14 L300.50 562.94 L302.12 563.74 L303.73 564.53 L305.34 565.30 L306.95 566.07 L308.56 566.82 L310.18 567.57 L311.79 568.30 L313.40 569.03 L315.01 569.75 L316.63 570.45 L318.24 571.15 L319.85 571.84 L321.46 572.52 L323.08 573.20 L324.69 573.86 L326.30 574.52 L327.91 575.16 L329.52 575.80 L331.14 576.43 L332.75 577.06 L334.36 577.67 L335.97 578.28 L337.59 578.88 L339.20 579.48 L340.81 580.06 L342.42 580.64 L344.04 581.22 L345.65 581.78 L347.26 582.34 L348.87 582.89 L350.48 583.44 L352.10 583.98 L353.71 584.51 L355.32 585.04 L356.93 585.56 L358.55 586.08 L360.16 586.58 L361.77 587.09 L363.38 587.58 L365.00 588.08 L366.61 588.56 L368.22 589.04 L369.83 589.52 L371.44 589.99 L373.06 590.45 L374.67 590.91 L376.28 591.37 L377.89 591.82 L379.51 592.26 L381.12 592.70 L382.73 593.14 L384.34 593.57 L385.95 593.99 L387.57 594.41 L389.18 594.83 L390.79 595.24 L392.40 595.65 L394.02 596.05 L395.63 596.45 L397.24 596.84 L398.85 597.24 L400.47 597.62 L402.08 598.00 L403.69 598.38 L405.30 598.76 L406.91 599.13 L408.53 599.50 L410.14 599.86 L411.75 600.22 L413.36 600.57 L414.98 600.93 L416.59 601.28 L418.20 601.62 L419.81 601.96 L421.43 602.30 L423.04 602.64 L424.65 602.97 L426.26 603.30 L427.87 603.62 L429.49 603.95 L431.10 604.27 L432.71 604.58 L434.32 604.89 L435.94 605.20 L437.55 605.51 L439.16 605.82 L440.77 606.12 L442.39 606.42 L444.00 606.71 L445.61 607.01 L447.22 607.30 L448.83 607.58 L450.45 607.87 L452.06 608.15 L453.67 608.43 L455.28 608.71 L456.90 608.98 L458.51 609.25 L460.12 609.52 L461.73 609.79 L463.35 610.06 L464.96 610.32 L466.57 610.58 L468.18 610.84 L469.79 611.09 L471.41 611.35 L473.02 611.60 L474.63 611.85 L476.24 612.09 L477.86 612.34 L479.47 612.58 L481.08 612.82 L482.69 613.06 L484.30 613.29 L485.92 613.53 L487.53 613.76 L489.14 613.99 L490.75 614.22 L492.37 614.45 L493.98 614.67 L495.59 614.89 L497.20 615.11 L498.82 615.33 L500.43 615.55 L502.04 615.76 L503.65 615.98 L505.26 616.19 L506.88 616.40 L508.49 616.61 L510.10 616.82 L511.71 617.02 L513.33 617.22 L514.94 617.43 L516.55 617.63 L518.16 617.82 L519.78 618.02 L521.39 618.22 L523.00 618.41" fill="none" stroke="#0000ff" stroke-width="1.4"/>
<path d="M271.35 484.12 L272.03 484.98 M276.25 490.19 L276.95 491.04 M281.22 496.11 L281.94 496.95 M286.26 501.88 L287.00 502.70 M291.38 507.48 L292.13 508.29 M296.57 512.91 L297.35 513.69 M301.85 518.14 L302.64 518.91 M307.20 523.19 L308.01 523.93 M312.63 528.03 L313.46 528.75 M318.13 532.68 L318.98 533.37 M323.70 537.12 L324.58 537.79 M329.35 541.36 L330.23 542.01 M335.05 545.40 L335.96 546.02 M340.81 549.25 L341.73 549.85 M346.63 552.91 L347.56 553.49 M352.49 556.39 L353.44 556.94 M358.40 559.70 L359.36 560.22 M364.34 562.83 L365.32 563.33 M370.33 565.81 L371.32 566.29 M376.34 568.63 L377.35 569.09 M382.39 571.32 L383.40 571.75 M388.46 573.87 L389.48 574.28 M394.55 576.29 L395.58 576.69 M400.67 578.60 L401.70 578.98 M406.80 580.80 L407.83 581.16 M412.94 582.90 L413.99 583.25 M419.10 584.90 L420.15 585.24 M425.28 586.82 L426.33 587.14 M431.46 588.65 L432.52 588.96 M437.65 590.41 L438.71 590.71 M443.85 592.10 L444.92 592.39 M450.06 593.73 L451.13 594.00 M456.28 595.30 L457.35 595.56 M462.50 596.81 L463.57 597.06 M468.73 598.27 L469.80 598.51 M474.96 599.68 L476.03 599.92 M481.20 601.05 L482.27 601.28 M487.44 602.38 L488.51 602.60 M493.68 603.67 L494.76 603.89 M499.93 604.93 L501.01 605.14 M506.18 606.15 L507.26 606.36 M512.43 607.34 L513.51 607.55 M518.68 608.51 L519.76 608.71" fill="none" stroke="#0000ff" stroke-width="1.7" stroke-linecap="round"/>
<path d="M171.17 392.98 L172.64 394.61 L174.11 396.30 L175.59 398.06 L177.06 399.86 L178.53 401.71 L180.00 403.60 L181.47 405.52 L182.95 407.47 L184.42 409.44 L185.89 411.44 L187.36 413.45 L188.83 415.47 L190.31 417.50 L191.78 419.53 L193.25 421.57 L194.72 423.61 L196.19 425.64 L197.67 427.68 L199.14 429.70 L200.61 431.72 L202.08 433.73 L203.56 435.72 L205.03 437.71 L206.50 439.68 L207.97 441.64 L209.44 443.58 L210.92 445.51 L212.39 447.42 L213.86 449.31 L215.33 451.19 L216.80 453.05 L218.28 454.89 L219.75 456.71 L221.22 458.51 L222.69 460.29 L224.16 462.06 L225.64 463.80 L227.11 465.53 L228.58 467.24 L230.05 468.92 L231.53 470.59 L233.00 472.24 L234.47 473.87 L235.94 475.48 L237.41 477.07 L238.89 478.65 L240.36 480.20 L241.83 481.74 L243.30 483.26 L244.77 484.76 L246.25 486.24 L247.72 487.70 L249.19 489.15 L250.66 490.58 L252.13 491.99 L253.61 493.39 L255.08 494.77 L256.55 496.13 L258.02 497.48 L259.49 498.81 L260.97 500.12 L262.44 501.42 L263.91 502.71 L265.38 503.98 L266.86 505.23 L268.33 506.47 L269.80 507.70 L271.27 508.91 L272.74 510.11 L274.22 511.29 L275.69 512.46 L277.16 513.62 L278.63 514.76 L280.10 515.89 L281.58 517.01 L283.05 518.12 L284.52 519.21 L285.99 520.29 L287.46 521.36 L288.94 522.42 L290.41 523.47 L291.88 524.50 L293.35 525.53 L294.83 526.54 L296.30 527.54 L297.77 528.53 L299.24 529.52 L300.71 530.49 L302.19 531.45 L303.66 532.40 L305.13 533.34 L306.60 534.27 L308.07 535.19 L309.55 536.10 L311.02 537.00 L312.49 537.89 L313.96 538.78 L315.43 539.65 L316.91 540.52 L318.38 541.37 L319.85 542.22 L321.32 543.06 L322.80 543.89 L324.27 544.71 L325.74 545.53 L327.21 546.33 L328.68 547.13 L330.16 547.92 L331.63 548.71 L333.10 549.48 L334.57 550.25 L336.04 551.01 L337.52 551.76 L338.99 552.51 L340.46 553.24 L341.93 553.97 L343.40 554.70 L344.88 555.41 L346.35 556.12 L347.82 556.83 L349.29 557.52 L350.76 558.21 L352.24 558.89 L353.71 559.57 L355.18 560.24 L356.65 560.90 L358.13 561.56 L359.60 562.21 L361.07 562.86 L362.54 563.49 L364.01 564.13 L365.49 564.75 L366.96 565.37 L368.43 565.99 L369.90 566.60 L371.37 567.20 L372.85 567.80 L374.32 568.39 L375.79 568.97 L377.26 569.55 L378.73 570.13 L380.21 570.70 L381.68 571.26 L383.15 571.82 L384.62 572.37 L386.10 572.92 L387.57 573.46 L389.04 574.00 L390.51 574.53 L391.98 575.06 L393.46 575.58 L394.93 576.10 L396.40 576.61 L397.87 577.12 L399.34 577.62 L400.82 578.12 L402.29 578.62 L403.76 579.10 L405.23 579.59 L406.70 580.07 L408.18 580.54 L409.65 581.01 L411.12 581.48 L412.59 581.94 L414.06 582.40 L415.54 582.85 L417.01 583.30 L418.48 583.74 L419.95 584.18 L421.43 584.62 L422.90 585.05 L424.37 585.47 L425.84 585.90 L427.31 586.31 L428.79 586.73 L430.26 587.14 L431.73 587.55 L433.20 587.95 L434.67 588.35 L436.15 588.74 L437.62 589.13 L439.09 589.52 L440.56 589.90 L442.03 590.28 L443.51 590.66 L444.98 591.03 L446.45 591.40 L447.92 591.76 L449.40 592.12 L450.87 592.48 L452.34 592.83 L453.81 593.18 L455.28 593.53 L456.76 593.87 L458.23 594.21 L459.70 594.55 L461.17 594.88 L462.64 595.21 L464.12 595.54 L465.59 595.86 L467.06 596.18 L468.53 596.49 L470.00 596.81 L471.48 597.12 L472.95 597.42 L474.42 597.73 L475.89 598.03 L477.37 598.32 L478.84 598.62 L480.31 598.91 L481.78 599.19 L483.25 599.48 L484.73 599.76 L486.20 600.04 L487.67 600.31 L489.14 600.59 L490.61 600.86 L492.09 601.12 L493.56 601.39 L495.03 601.65 L496.50 601.91 L497.97 602.16 L499.45 602.42 L500.92 602.67 L502.39 602.91 L503.86 603.16 L505.33 603.40 L506.81 603.64 L508.28 603.87 L509.75 604.11 L511.22 604.34 L512.70 604.57 L514.17 604.79 L515.64 605.02 L517.11 605.24 L518.58 605.45 L520.06 605.67 L521.53 605.88 L523.00 606.09" fill="none" stroke="#808000" stroke-width="1.2"/>
<path d="M171.17 392.98 L172.64 394.79 L174.11 396.67 L175.59 398.60 L177.06 400.59 L178.53 402.62 L180.00 404.69 L181.47 406.79 L182.95 408.92 L184.42 411.08 L185.89 413.25 L187.36 415.44 L188.83 417.65 L190.31 419.86 L191.78 422.07 L193.25 424.29 L194.72 426.51 L196.19 428.73 L197.67 430.78 L199.14 432.80 L200.61 434.82 L202.08 436.83 L203.56 438.82 L205.03 440.81 L206.50 442.78 L207.97 444.74 L209.44 446.68 L210.92 448.61 L212.39 450.52 L213.86 452.41 L215.33 454.29 L216.80 456.15 L218.28 457.99 L219.75 459.81 L221.22 461.61 L222.69 463.39 L224.16 465.16 L225.64 466.90 L227.11 468.63 L228.58 470.34 L230.05 472.02 L231.53 473.69 L233.00 475.34 L234.47 476.97 L235.94 478.58 L237.41 480.17 L238.89 481.75 L240.36 483.30 L241.83 484.84 L243.30 486.36 L244.77 487.86 L246.25 489.34 L247.72 490.80 L249.19 492.25 L250.66 493.68 L252.13 495.09 L253.61 496.49 L255.08 497.87 L256.55 499.23 L258.02 500.58 L259.49 501.91 L260.97 503.22 L262.44 504.52 L263.91 505.81 L265.38 507.08 L266.86 508.33 L268.33 509.57 L269.80 510.80 L271.27 512.01 L272.74 513.21 L274.22 514.39 L275.69 515.56 L277.16 516.72 L278.63 517.86 L280.10 518.99 L281.58 520.11 L283.05 521.22 L284.52 522.31 L285.99 523.39 L287.46 524.46 L288.94 525.51 L290.41 526.52 L291.88 527.52 L293.35 528.51 L294.83 529.49 L296.30 530.46 L297.77 531.41 L299.24 532.36 L300.71 533.29 L302.19 534.22 L303.66 535.13 L305.13 536.04 L306.60 536.95 L308.07 537.86 L309.55 538.75 L311.02 539.64 L312.49 540.52 L313.96 541.38 L315.43 542.24 L316.91 543.09 L318.38 543.93 L319.85 544.77 L321.32 545.59 L322.80 546.41 L324.27 547.21 L325.74 548.01 L327.21 548.80 L328.68 549.59 L330.16 550.36 L331.63 551.13 L333.10 551.89 L334.57 552.64 L336.04 553.38 L337.52 554.12 L338.99 554.85 L340.46 555.57 L341.93 556.29 L343.40 557.00 L344.88 557.70 L346.35 558.39 L347.82 559.08 L349.29 559.76 L350.76 560.43 L352.24 561.10 L353.71 561.76 L355.18 562.41 L356.65 563.06 L358.13 563.70 L359.60 564.34 L361.07 564.97 L362.54 565.59 L364.01 566.21 L365.49 566.82 L366.96 567.42 L368.43 568.02 L369.90 568.61 L371.37 569.20 L372.85 569.78 L374.32 570.35 L375.79 570.92 L377.26 571.48 L378.73 572.04 L380.21 572.60 L381.68 573.14 L383.15 573.68 L384.62 574.22 L386.10 574.75 L387.57 575.28 L389.04 575.80 L390.51 576.33 L391.98 576.85 L393.46 577.37 L394.93 577.88 L396.40 578.39 L397.87 578.89 L399.34 579.39 L400.82 579.89 L402.29 580.38 L403.76 580.86 L405.23 581.34 L406.70 581.81 L408.18 582.29 L409.65 582.75 L411.12 583.21 L412.59 583.67 L414.06 584.12 L415.54 584.57 L417.01 585.01 L418.48 585.45 L419.95 585.89 L421.43 586.32 L422.90 586.74 L424.37 587.17 L425.84 587.59 L427.31 588.00 L428.79 588.41 L430.26 588.82 L431.73 589.22 L433.20 589.62 L434.67 590.01 L436.15 590.40 L437.62 590.79 L439.09 591.17 L440.56 591.55 L442.03 591.92 L443.51 592.29 L444.98 592.66 L446.45 593.02 L447.92 593.38 L449.40 593.74 L450.87 594.09 L452.34 594.44 L453.81 594.79 L455.28 595.13 L456.76 595.47 L458.23 595.80 L459.70 596.14 L461.17 596.46 L462.64 596.79 L464.12 597.11 L465.59 597.43 L467.06 597.74 L468.53 598.06 L470.00 598.36 L471.48 598.67 L472.95 598.97 L474.42 599.27 L475.89 599.57 L477.37 599.86 L478.84 600.15 L480.31 600.43 L481.78 600.72 L483.25 601.00 L484.73 601.27 L486.20 601.55 L487.67 601.82 L489.14 602.09 L490.61 602.35 L492.09 602.61 L493.56 602.86 L495.03 603.12 L496.50 603.37 L497.97 603.61 L499.45 603.86 L500.92 604.10 L502.39 604.34 L503.86 604.57 L505.33 604.80 L506.81 605.03 L508.28 605.26 L509.75 605.49 L511.22 605.71 L512.70 605.93 L514.17 606.15 L515.64 606.36 L517.11 606.57 L518.58 606.78 L520.06 606.99 L521.53 607.19 L523.00 607.39" fill="none" stroke="#808000" stroke-width="1.2"/>
<path d="M221.43 394.81 L222.69 395.99 L223.95 397.17 L225.22 398.35 L226.48 399.54 L227.74 400.73 L229.00 401.93 L230.26 403.12 L231.53 404.32 L232.79 405.52 L234.05 406.72 L235.31 407.92 L236.57 409.12 L237.83 410.33 L239.10 411.53 L240.36 412.73 L241.62 413.94 L242.88 415.14 L244.14 416.34 L245.40 417.55 L246.67 418.75 L247.93 419.95 L249.19 421.14 L250.45 422.34 L251.71 423.53 L252.98 424.73 L254.24 425.92 L255.50 427.11 L256.76 428.29 L258.02 429.48 L259.28 430.66 L260.55 431.83 L261.81 433.01 L263.07 434.18 L264.33 435.35 L265.59 436.51 L266.86 437.67 L268.12 438.83 L269.38 439.99 L270.64 441.14 L271.90 442.28 L273.16 443.42 L274.43 444.56 L275.69 445.70 L276.95 446.83 L278.21 447.95 L279.47 449.07 L280.74 450.19 L282.00 451.30 L283.26 452.41 L284.52 453.51 L285.78 454.61 L287.04 455.70 L288.31 456.79 L289.57 457.87 L290.83 458.95 L292.09 460.02 L293.35 461.09 L294.61 462.15 L295.88 463.21 L297.14 464.26 L298.40 465.31 L299.66 466.35 L300.92 467.39 L302.19 468.42 L303.45 469.44 L304.71 470.46 L305.97 471.48 L307.23 472.49 L308.49 473.49 L309.76 474.49 L311.02 475.49 L312.28 476.47 L313.54 477.45 L314.80 478.43 L316.07 479.40 L317.33 480.37 L318.59 481.33 L319.85 482.28 L321.11 483.23 L322.37 484.18 L323.64 485.11 L324.90 486.05 L326.16 486.97 L327.42 487.89 L328.68 488.81 L329.95 489.72 L331.21 490.63 L332.47 491.52 L333.73 492.42 L334.99 493.31 L336.25 494.19 L337.52 495.07 L338.78 495.94 L340.04 496.80 L341.30 497.67 L342.56 498.52 L343.82 499.37 L345.09 500.22 L346.35 501.05 L347.61 501.89 L348.87 502.72 L350.13 503.54 L351.40 504.36 L352.66 505.17 L353.92 505.98 L355.18 506.78 L356.44 507.58 L357.70 508.37 L358.97 509.15 L360.23 509.94 L361.49 510.71 L362.75 511.48 L364.01 512.25 L365.28 513.01 L366.54 513.76 L367.80 514.52 L369.06 515.26 L370.32 516.00 L371.58 516.74 L372.85 517.47 L374.11 518.19 L375.37 518.91 L376.63 519.63 L377.89 520.34 L379.16 521.05 L380.42 521.75 L381.68 522.45 L382.94 523.14 L384.20 523.82 L385.46 524.51 L386.73 525.18 L387.99 525.86 L389.25 526.53 L390.51 527.19 L391.77 527.85 L393.04 528.50 L394.30 529.15 L395.56 529.80 L396.82 530.44 L398.08 531.08 L399.34 531.71 L400.61 532.34 L401.87 532.96 L403.13 533.58 L404.39 534.20 L405.65 534.81 L406.91 535.42 L408.18 536.02 L409.44 536.62 L410.70 537.21 L411.96 537.80 L413.22 538.39 L414.49 538.97 L415.75 539.55 L417.01 540.12 L418.27 540.69 L419.53 541.26 L420.79 541.82 L422.06 542.37 L423.32 542.93 L424.58 543.48 L425.84 544.02 L427.10 544.57 L428.37 545.11 L429.63 545.64 L430.89 546.17 L432.15 546.70 L433.41 547.22 L434.67 547.74 L435.94 548.26 L437.20 548.77 L438.46 549.28 L439.72 549.79 L440.98 550.29 L442.25 550.79 L443.51 551.28 L444.77 551.77 L446.03 552.26 L447.29 552.75 L448.55 553.23 L449.82 553.71 L451.08 554.18 L452.34 554.65 L453.60 555.12 L454.86 555.58 L456.12 556.05 L457.39 556.50 L458.65 556.96 L459.91 557.41 L461.17 557.86 L462.43 558.31 L463.70 558.75 L464.96 559.19 L466.22 559.62 L467.48 560.06 L468.74 560.49 L470.00 560.91 L471.27 561.34 L472.53 561.76 L473.79 562.18 L475.05 562.59 L476.31 563.01 L477.58 563.42 L478.84 563.82 L480.10 564.23 L481.36 564.63 L482.62 565.03 L483.88 565.42 L485.15 565.82 L486.41 566.21 L487.67 566.59 L488.93 566.98 L490.19 567.36 L491.46 567.74 L492.72 568.12 L493.98 568.49 L495.24 568.86 L496.50 569.23 L497.76 569.60 L499.03 569.96 L500.29 570.32 L501.55 570.68 L502.81 571.04 L504.07 571.39 L505.33 571.74 L506.60 572.09 L507.86 572.44 L509.12 572.79 L510.38 573.13 L511.64 573.47 L512.91 573.80 L514.17 574.14 L515.43 574.47 L516.69 574.80 L517.95 575.13 L519.21 575.46 L520.48 575.78 L521.74 576.10 L523.00 576.42" fill="none" stroke="#00ff00" stroke-width="1.4"/>
<path d="M271.26 532.47 L272.12 533.16 M276.86 536.91 L277.73 537.59 M282.49 541.26 L283.37 541.93 M288.15 545.50 L289.04 546.15 M293.85 549.61 L294.75 550.25 M299.59 553.60 L300.50 554.22 M305.36 557.45 L306.28 558.06 M311.17 561.17 L312.10 561.75 M317.01 564.74 L317.96 565.31 M322.89 568.17 L323.85 568.72 M328.81 571.46 L329.78 571.98 M334.76 574.60 L335.74 575.10 M340.74 577.60 L341.73 578.09 M346.75 580.47 L347.75 580.93 M352.79 583.19 L353.80 583.63 M358.85 585.79 L359.87 586.21 M364.94 588.25 L365.96 588.65 M371.04 590.59 L372.07 590.97 M377.17 592.81 L378.21 593.18 M383.31 594.92 L384.36 595.26 M389.47 596.91 L390.52 597.24 M395.65 598.80 L396.70 599.11 M401.84 600.59 L402.89 600.89 M408.03 602.29 L409.10 602.57 M414.24 603.89 L415.31 604.15 M420.46 605.40 L421.53 605.66 M426.69 606.84 L427.77 607.08 M432.93 608.20 L434.00 608.42 M439.17 609.48 L440.25 609.69 M445.42 610.69 L446.50 610.90 M451.67 611.84 L452.76 612.03 M457.93 612.93 L459.02 613.11 M464.19 613.95 L465.28 614.12 M470.46 614.92 L471.55 615.08 M476.73 615.84 L477.82 615.99 M483.01 616.71 L484.10 616.85 M489.28 617.53 L490.37 617.66 M495.56 618.30 L496.65 618.43 M501.84 619.03 L502.94 619.16 M508.13 619.73 L509.22 619.84 M514.41 620.38 L515.51 620.49 M520.70 621.00 L521.79 621.10" fill="none" stroke="#000000" stroke-width="1.7" stroke-linecap="round"/>
<path d="M304.85 474.45 L305.55 475.30 M310.22 480.85 L310.94 481.68 M315.66 487.02 L316.40 487.84 M321.17 492.97 L321.93 493.76 M326.74 498.69 L327.52 499.46 M332.37 504.18 L333.17 504.94 M338.05 509.46 L338.87 510.20 M343.78 514.52 L344.62 515.23 M349.57 519.36 L350.42 520.06 M355.39 524.00 L356.26 524.68 M361.26 528.44 L362.15 529.10 M367.17 532.69 L368.07 533.32 M373.11 536.75 L374.02 537.36 M379.08 540.63 L380.01 541.22 M385.08 544.33 L386.03 544.90 M391.11 547.88 L392.07 548.42 M397.16 551.26 L398.13 551.78 M403.24 554.49 L404.21 554.99 M409.33 557.58 L410.32 558.06 M415.45 560.53 L416.44 561.00 M421.57 563.35 L422.58 563.80 M427.72 566.04 L428.73 566.48 M433.88 568.62 L434.90 569.04 M440.05 571.09 L441.07 571.49 M446.23 573.45 L447.26 573.83 M452.42 575.71 L453.45 576.08 M458.62 577.87 L459.66 578.23 M464.83 579.95 L465.87 580.29 M471.04 581.94 L472.09 582.26 M477.27 583.84 L478.32 584.16 M483.50 585.67 L484.55 585.98 M489.73 587.43 L490.79 587.72 M495.97 589.12 L497.03 589.40 M502.21 590.74 L503.28 591.01 M508.46 592.30 L509.53 592.56 M514.72 593.80 L515.79 594.05 M520.97 595.24 L522.04 595.48" fill="none" stroke="#808000" stroke-width="1.7" stroke-linecap="round"/>
<path d="M305.35 478.76 L306.05 479.60 M310.74 485.11 L311.46 485.94 M316.19 491.24 L316.93 492.05 M321.71 497.13 L322.47 497.93 M327.29 502.81 L328.07 503.58 M332.93 508.25 L333.73 509.01 M338.62 513.48 L339.45 514.21 M344.37 518.49 L345.21 519.20 M350.16 523.28 L351.02 523.97 M356.00 527.87 L356.88 528.53 M361.88 532.23 L362.77 532.87 M367.80 536.40 L368.71 537.02 M373.76 540.38 L374.68 540.98 M379.74 544.18 L380.68 544.76 M385.76 547.81 L386.71 548.37 M391.80 551.27 L392.76 551.81 M397.86 554.55 L398.84 555.06 M403.95 557.68 L404.93 558.17 M410.06 560.66 L411.05 561.13 M416.18 563.50 L417.19 563.95 M422.33 566.21 L423.34 566.65 M428.48 568.80 L429.50 569.22 M434.65 571.27 L435.68 571.67 M440.83 573.63 L441.86 574.01 M447.02 575.89 L448.06 576.25 M453.22 578.04 L454.27 578.39 M459.43 580.01 L460.48 580.32 M465.66 581.83 L466.72 582.13 M471.90 583.56 L472.96 583.84 M478.14 585.20 L479.20 585.48 M484.38 586.77 L485.45 587.04 M490.64 588.27 L491.71 588.52 M496.89 589.70 L497.97 589.94 M503.16 591.21 L504.23 591.47 M509.41 592.69 L510.48 592.94 M515.67 594.11 L516.74 594.35" fill="none" stroke="#808000" stroke-width="1.7" stroke-linecap="round"/>
<path d="M355.11 444.70 L355.82 445.54 M360.52 451.01 L361.25 451.84 M365.99 457.16 L366.72 457.97 M371.49 463.14 L372.25 463.94 M377.05 468.95 L377.82 469.74 M382.65 474.59 L383.43 475.36 M388.29 480.05 L389.09 480.81 M393.98 485.34 L394.80 486.08 M399.71 490.44 L400.54 491.16 M405.48 495.37 L406.33 496.07 M411.29 500.12 L412.15 500.81 M417.13 504.69 L418.01 505.36 M423.01 509.10 L423.90 509.74 M428.93 513.33 L429.83 513.95 M434.87 517.39 L435.78 518.00 M440.84 521.29 L441.77 521.88 M446.84 525.02 L447.78 525.59 M452.86 528.60 L453.81 529.15 M458.91 532.03 L459.87 532.56 M464.97 535.32 L465.95 535.83 M471.06 538.45 L472.05 538.95 M477.17 541.46 L478.16 541.93 M483.29 544.33 L484.29 544.78 M489.43 547.07 L490.44 547.50 M495.58 549.68 L496.60 550.10 M501.75 552.18 L502.77 552.59 M507.93 554.57 L508.96 554.95 M514.12 556.84 L515.15 557.21 M520.32 559.01 L521.36 559.37" fill="none" stroke="#00ff00" stroke-width="1.7" stroke-linecap="round"/>
<path d="M156.30 265.00 L190.30 232.40 M158.30 266.50 L183.10 251.00 M160.40 270.80 L280.00 277.30 M172.80 522.70 L185.60 504.10 M179.00 524.10 L209.80 494.00 M182.10 530.90 L276.90 491.40" stroke="#0000ff" stroke-width="1.4" fill="none"/>
<path d="M192.20 203.30 L240.80 198.10 M253.60 203.70 L232.50 229.50 M265.10 204.70 L279.00 240.90 M191.20 449.80 L281.65 430.20 M283.70 434.10 L238.30 473.35 M294.90 436.80 L305.70 478.50 M322.40 469.20 L274.20 524.70 M326.50 469.80 L283.70 521.60 M336.25 469.20 L326.40 506.80" stroke="#808000" stroke-width="1.4" fill="none"/>
<path d="M230.80 316.20 L240.30 304.60 M237.70 321.70 L281.00 303.80 M237.70 325.30 L266.60 318.20 M416.40 627.60 L453.50 611.10 M417.40 630.70 L436.00 624.50 M418.40 634.20 L468.00 624.50" stroke="#000000" stroke-width="1.4" fill="none"/>
<path d="M404.30 260.90 L359.90 287.80 M404.90 267.10 L388.80 291.50 M409.50 269.20 L406.80 287.80 M464.90 512.30 L445.30 522.70 M466.30 513.00 L441.80 577.80 M469.00 513.80 L465.50 560.25" stroke="#00ff00" stroke-width="1.4" fill="none"/>
<circle cx="187.92" cy="171.70" r="2.8" fill="#00ff00"/>
<circle cx="271.69" cy="253.60" r="2.8" fill="#00ff00"/>
<circle cx="355.46" cy="289.40" r="2.8" fill="#00ff00"/>
<circle cx="439.23" cy="308.10" r="2.8" fill="#00ff00"/>
<circle cx="187.92" cy="202.60" r="2.8" fill="#808000"/>
<circle cx="271.69" cy="270.00" r="2.8" fill="#808000"/>
<circle cx="355.46" cy="300.60" r="2.8" fill="#808000"/>
<circle cx="439.23" cy="315.30" r="2.8" fill="#808000"/>
<circle cx="187.92" cy="248.30" r="2.8" fill="#0000ff"/>
<circle cx="271.69" cy="295.50" r="2.8" fill="#0000ff"/>
<circle cx="355.46" cy="316.10" r="2.8" fill="#0000ff"/>
<circle cx="439.23" cy="326.40" r="2.8" fill="#0000ff"/>
<circle cx="187.92" cy="288.10" r="2.8" fill="#000000"/>
<circle cx="271.69" cy="316.60" r="2.8" fill="#000000"/>
<circle cx="355.46" cy="328.30" r="2.8" fill="#000000"/>
<circle cx="439.23" cy="335.30" r="2.8" fill="#000000"/>
<circle cx="187.92" cy="395.70" r="2.8" fill="#00ff00"/>
<circle cx="271.69" cy="500.00" r="2.8" fill="#00ff00"/>
<circle cx="355.46" cy="552.60" r="2.8" fill="#00ff00"/>
<circle cx="439.23" cy="582.00" r="2.8" fill="#00ff00"/>
<circle cx="187.92" cy="443.00" r="2.8" fill="#808000"/>
<circle cx="187.92" cy="448.60" r="2.8" fill="#808000"/>
<circle cx="271.69" cy="530.00" r="2.8" fill="#808000"/>
<circle cx="271.69" cy="532.60" r="2.8" fill="#808000"/>
<circle cx="355.46" cy="572.40" r="2.8" fill="#808000"/>
<circle cx="355.46" cy="574.50" r="2.8" fill="#808000"/>
<circle cx="439.23" cy="595.60" r="2.8" fill="#808000"/>
<circle cx="439.23" cy="597.00" r="2.8" fill="#808000"/>
<circle cx="187.92" cy="500.80" r="2.8" fill="#0000ff"/>
<circle cx="271.69" cy="564.00" r="2.8" fill="#0000ff"/>
<circle cx="355.46" cy="594.20" r="2.8" fill="#0000ff"/>
<circle cx="439.23" cy="611.10" r="2.8" fill="#0000ff"/>
<circle cx="187.92" cy="547.90" r="2.8" fill="#000000"/>
<circle cx="271.69" cy="591.00" r="2.8" fill="#000000"/>
<circle cx="355.46" cy="611.40" r="2.8" fill="#000000"/>
<circle cx="439.23" cy="623.10" r="2.8" fill="#000000"/>
<text transform="translate(119.70 276.20) scale(1 1.04)" class="lb" fill="#0000ff" >(1,1)</text>
<text transform="translate(240.40 201.40) scale(1 1.04)" class="lb" fill="#808000" word-spacing="1">(1,2), (2,0)</text>
<text transform="translate(115.00 333.40) scale(1 1.04)" class="lb" fill="#000000" word-spacing="0.4">(<tspan font-style="italic">N</tspan><tspan font-size="12.5" dy="7.5">e</tspan><tspan dy="-7.5">, </tspan><tspan font-style="italic">m</tspan>) = (1,0)</text>
<text transform="translate(405.90 260.40) scale(1 1.04)" class="lb" fill="#00ff00" >(3,0)</text>
<text transform="translate(141.40 538.60) scale(1 1.04)" class="lb" fill="#0000ff" >(1,1)</text>
<text transform="translate(282.80 430.90) scale(1 1.04)" class="lb" fill="#808000" >(2,0)</text>
<text transform="translate(316.20 463.00) scale(1 1.04)" class="lb" fill="#808000" >(1,2)</text>
<text transform="translate(464.10 507.00) scale(1 1.04)" class="lb" fill="#00ff00" >(3,0)</text>
<text transform="translate(377.10 641.50) scale(1 1.04)" class="lb" fill="#000000" >(1,0)</text>
<text x="488.5" y="119.2" class="ax">a<tspan font-weight="normal">)</tspan></text>
<text x="489.6" y="423.4" class="ax">b<tspan font-weight="normal">)</tspan></text>
<text transform="translate(31.6 278.2) rotate(-90)" class="ax" style="white-space:pre">Energy  (eV)</text>
<text transform="translate(31.5 579.9) rotate(-90)" class="ax" style="white-space:pre">Energy  (eV)</text>
<text x="305.5" y="705.1" text-anchor="middle" class="ax">Radius (nm)</text>
</svg>
</body></html>
